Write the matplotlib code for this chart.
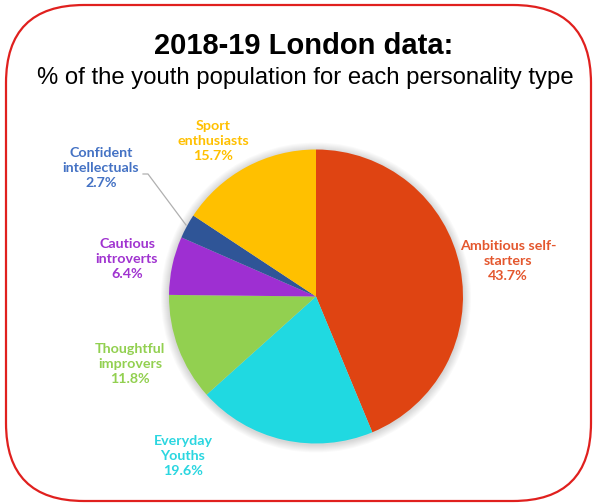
import numpy as np
import matplotlib
matplotlib.use("Agg")
import matplotlib.pyplot as plt
from matplotlib.patches import FancyBboxPatch, Circle

# Personality types, clockwise from 12 o'clock
categories = ["Ambitious self-\nstarters", "Everyday\nYouths", "Thoughtful\nimprovers",
              "Cautious\nintroverts", "Confident\nintellectuals", "Sport\nenthusiasts"]
shares = [43.7, 19.6, 11.8, 6.4, 2.7, 15.7]
slice_colors = ["#DF4412", "#20D9E1", "#92D050", "#9E2FD2", "#2F5597", "#FFC000"]
label_colors = ["#E4572E", "#2BD6E0", "#92D050", "#A033D0", "#4472C4", "#FFC000"]

W, H = 595, 504
fig = plt.figure(figsize=(W / 100, H / 100), dpi=100)
ax = fig.add_axes([0, 0, 1, 1])
ax.set_xlim(0, W)
ax.set_ylim(0, H)
ax.set_aspect("equal")
ax.axis("off")

# Rounded red frame
frame = FancyBboxPatch((6, 3), 585, 496, boxstyle="round,pad=0,rounding_size=78",
                       facecolor="white", edgecolor="#E0201E", linewidth=1.6, zorder=0)
ax.add_patch(frame)

# Titles
ax.text(304, H - 46, "2018-19 London data:", ha="center", va="center",
        fontsize=21, fontweight="bold", family="Liberation Sans", color="black")
ax.text(305, H - 78, "% of the youth population for each personality type", ha="center",
        va="center", fontsize=17.2, family="Liberation Sans", color="black")

cx, cy, r = 316, H - 296.5, 147

# Soft glow behind the pie
for k in range(8, 0, -1):
    ax.add_patch(Circle((cx, cy - 1), r + k, facecolor="#000000", edgecolor="none",
                        alpha=0.02, zorder=1))

wedges, _ = ax.pie(shares, colors=slice_colors, startangle=90, counterclock=False,
                   center=(cx, cy), radius=r, frame=True,
                   wedgeprops=dict(linewidth=0, zorder=2))
for w in wedges:
    w.set_zorder(2)
ax.set_xlim(0, W)
ax.set_ylim(0, H)
ax.axis("off")

label_pos = [(508, 261), (183, 456), (130, 364), (127, 259), (101, 168), (213, 141)]
for name, val, col, (lx, ly) in zip(categories, shares, label_colors, label_pos):
    ax.text(lx, H - ly, f"{name}\n{val}%", ha="center", va="center", color=col,
            fontsize=10.3, fontweight="bold", family="Lato", linespacing=1.27, zorder=3)

# Leader line for the small slice
ax.plot([143, 148, 186], [H - 174, H - 174, H - 225], color="#B0B0B0", lw=0.9, zorder=3)

fig.savefig("out.png", dpi=100)
